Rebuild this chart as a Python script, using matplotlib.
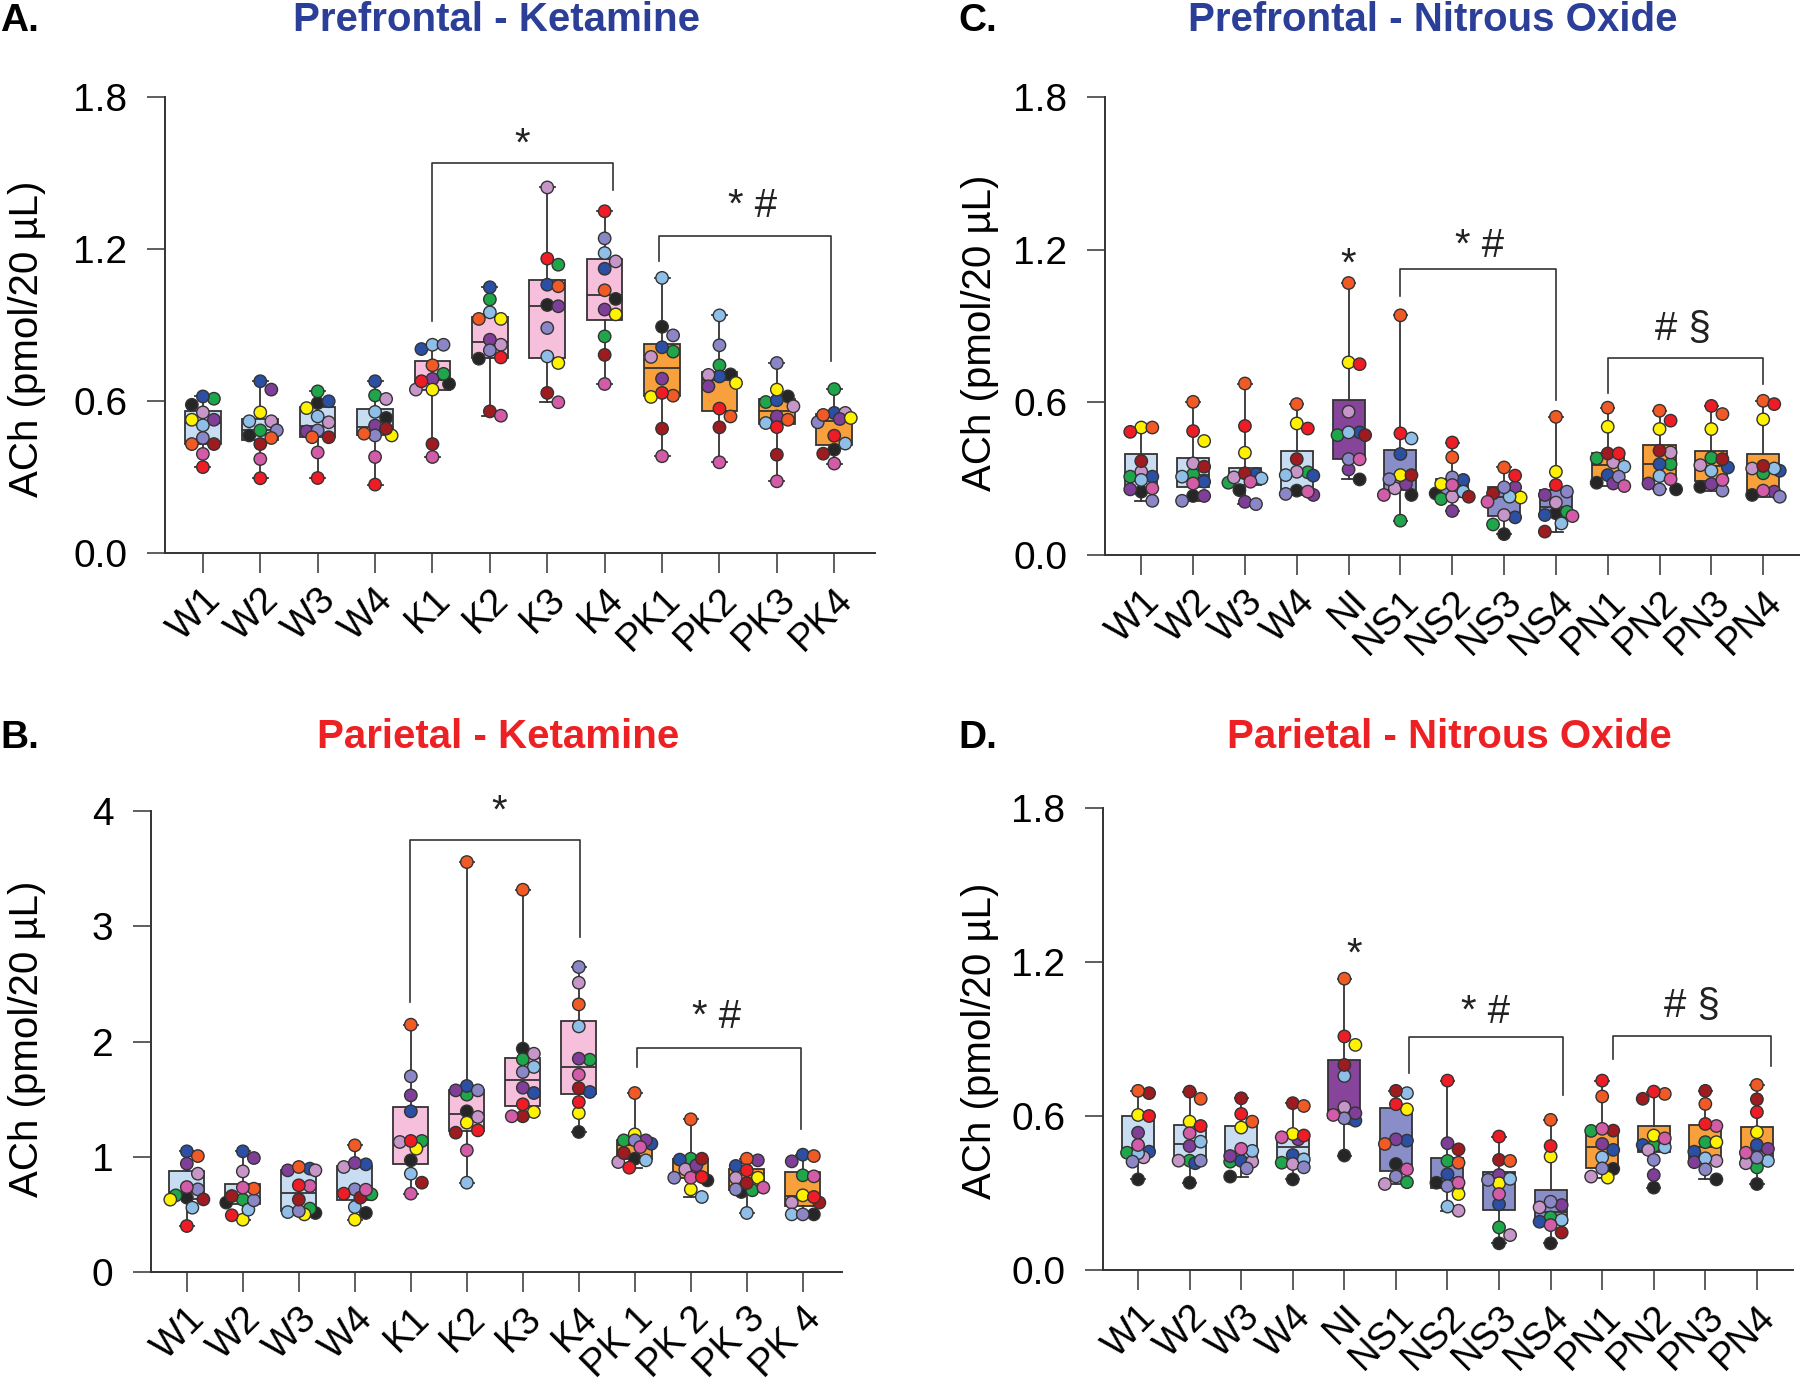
import numpy as np
import matplotlib
matplotlib.use('Agg')
import matplotlib.pyplot as plt

plt.rcParams['font.family'] = ['Liberation Sans', 'DejaVu Sans']

# subject order: black, green, blue, lilac, purple, yellow, light blue,
# lavender, dark red, orange, magenta, red
subject_colors = ['#262626', '#1fa64a', '#2b4fa3', '#c796c8', '#7f3f98', '#fff200',
                  '#8fbfe8', '#8b87c6', '#9e1b20', '#f15a24', '#d35ca8', '#ee1c25']

ket_groups = ['W1', 'W2', 'W3', 'W4', 'K1', 'K2', 'K3', 'K4', 'PK1', 'PK2', 'PK3', 'PK4']
ket_groups_b = ['W1', 'W2', 'W3', 'W4', 'K1', 'K2', 'K3', 'K4', 'PK 1', 'PK 2', 'PK 3', 'PK 4']
n2o_groups = ['W1', 'W2', 'W3', 'W4', 'NI', 'NS1', 'NS2', 'NS3', 'NS4', 'PN1', 'PN2', 'PN3', 'PN4']

ket_box_colors = ['#c8ddf2'] * 4 + ['#f6c0dc'] * 4 + ['#f7a03c'] * 4
n2o_box_colors = ['#c8ddf2'] * 4 + ['#86449b'] + ['#8a8ec8'] * 4 + ['#f7a03c'] * 4

# A. prefrontal - ketamine (pmol/20 uL), one row per group
pfc_ket = [
    [.585, .609, .618, .555, .526, .526, .504, .454, .430, .430, .391, .339],
    [.464, .484, .678, .520, .645, .555, .520, .484, .430, .454, .371, .295],
    [.592, .638, .599, .516, .480, .572, .539, .484, .457, .457, .397, .296],
    [.533, .622, .678, .608, .503, .464, .557, .464, .491, .471, .379, .270],
    [.667, .707, .805, .645, .687, .645, .822, .822, .430, .741, .379, .678],
    [.767, 1.001, 1.049, .822, .842, .924, .950, .800, .559, .924, .542, .772],
    [.979, 1.138, 1.059, 1.443, .974, .750, .776, .888, .632, 1.053, .595, 1.162],
    [1.003, .855, 1.122, 1.151, .961, .942, 1.184, 1.242, .782, 1.037, .667, 1.349],
    [.893, .795, .812, .774, .688, .616, 1.086, .859, .491, .621, .382, .632],
    [.705, .741, .697, .703, .658, .671, .938, .820, .496, .539, .358, .570],
    [.618, .596, .603, .579, .539, .645, .513, .750, .388, .526, .283, .497],
    [.408, .647, .553, .553, .529, .533, .432, .516, .392, .545, .353, .463],
]

# B. parietal - ketamine
par_ket = [
    [.645, .665, 1.047, .853, .940, .628, .558, .717, .630, 1.006, .737, .399],
    [.602, .628, 1.047, .873, .989, .454, .541, .622, .659, .723, .732, .492],
    [.512, .550, .897, .882, .882, .500, .520, .529, .628, .911, .746, .752],
    [.512, .674, .934, .911, .946, .454, .564, .717, .645, 1.099, .714, .680],
    [.969, 1.137, 1.394, 1.128, 1.533, 1.070, .853, 1.698, .775, 2.146, .680, 1.137],
    [1.394, 1.539, 1.614, 1.345, 1.576, 1.296, .775, 1.576, 1.209, 3.557, 1.056, 1.229],
    [1.938, 1.845, 1.553, 1.894, 1.599, 1.388, 1.779, 1.735, 1.351, 3.317, 1.351, 1.455],
    [1.215, 1.842, 1.562, 2.510, 1.851, 1.379, 2.131, 2.646, 1.596, 2.322, 1.712, 1.475],
    [.983, 1.142, 1.113, .954, 1.142, 1.194, .969, 1.142, 1.032, 1.553, 1.084, .905],
    [.795, .983, .975, .891, .925, .717, .651, .818, .983, 1.325, .818, .824],
    [.694, .709, .920, .816, .969, .818, .512, .717, .772, .983, .732, .882],
    [.500, .839, 1.018, .602, .960, .665, .500, .500, .602, 1.006, .830, .651],
]

# C. prefrontal - nitrous oxide
pfc_n2o = [
    [.249, .308, .308, .327, .258, .501, .295, .213, .369, .501, .262, .484],
    [.232, .317, .288, .360, .232, .448, .308, .213, .347, .602, .281, .487],
    [.255, .284, .318, .305, .209, .402, .301, .200, .321, .674, .288, .507],
    [.253, .325, .312, .327, .236, .517, .314, .240, .377, .593, .249, .497],
    [.297, .471, .482, .563, .336, .757, .482, .377, .471, 1.069, .376, .750],
    [.236, .135, .397, .262, .279, .314, .458, .298, .314, .942, .236, .478],
    [.242, .220, .295, .229, .173, .279, .249, .305, .229, .384, .275, .442],
    [.082, .120, .148, .157, .266, .226, .229, .266, .242, .344, .209, .312],
    [.164, .170, .157, .206, .236, .327, .124, .249, .092, .543, .153, .275],
    [.284, .380, .314, .364, .281, .504, .347, .308, .399, .579, .271, .399],
    [.258, .357, .357, .403, .281, .495, .310, .258, .410, .567, .298, .528],
    [.268, .382, .344, .353, .279, .495, .331, .253, .377, .554, .295, .586],
    [.236, .321, .331, .340, .249, .533, .340, .229, .350, .606, .253, .593],
]

# D. parietal - nitrous oxide
par_n2o = [
    [.353, .457, .461, .439, .535, .604, .455, .422, .689, .698, .487, .600],
    [.340, .426, .416, .426, .483, .578, .500, .426, .695, .667, .533, .561],
    [.364, .422, .425, .422, .444, .555, .464, .396, .669, .578, .472, .608],
    [.353, .418, .448, .413, .509, .530, .431, .400, .650, .639, .517, .524],
    [.446, .591, .582, .634, .611, .877, .756, .591, .799, 1.135, .604, .910],
    [.413, .342, .504, .335, .509, .626, .689, .364, .698, .491, .392, .646],
    [.340, .425, .373, .231, .494, .296, .247, .327, .470, .418, .340, .738],
    [.104, .166, .256, .136, .370, .338, .355, .351, .429, .425, .296, .520],
    [.104, .205, .188, .244, .253, .442, .195, .266, .146, .585, .175, .483],
    [.394, .542, .468, .364, .491, .360, .439, .396, .543, .676, .550, .738],
    [.321, .483, .487, .468, .370, .524, .478, .429, .667, .686, .513, .695],
    [.353, .498, .461, .425, .420, .498, .435, .392, .698, .647, .561, .569],
    [.335, .400, .487, .416, .472, .537, .425, .438, .665, .721, .457, .615],
]

# brackets: x_left, x_right, y_bar, y_left_end, y_right_end
brackets_a = [(5.0, 8.15, 1.540, 0.914, 1.434), (8.95, 11.94, 1.25, 1.151, 0.757)]
brackets_b = [(4.98, 8.02, 3.751, 2.343, 2.906), (9.04, 11.96, 1.943, 1.779, 1.244)]
brackets_c = [(6.0, 9.01, 1.123, 1.017, 0.611), (10.0, 12.99, 0.776, 0.635, 0.674)]
brackets_d = [(6.25, 9.24, 0.906, 0.769, 0.682), (10.2, 13.27, 0.910, 0.821, 0.795)]
# significance marks: text, x centre, baseline y
notes_a = [('*', 6.56, 1.567), ('* #', 10.57, 1.326)]
notes_b = [('*', 6.57, 3.896), ('* #', 10.46, 2.117)]
notes_c = [('*', 5.0, 1.097), ('* #', 7.53, 1.171), ('# \u00a7', 11.46, 0.845)]
notes_d = [('*', 5.19, 1.184), ('* #', 7.74, 0.962), ('# \u00a7', 11.74, 0.986)]

INK = '#333333'


def swarm_offsets(ax, x, vals, d_px=12.0, half_width=0.32):
    '''beeswarm-like horizontal offsets (data units), kept inside the box width'''
    pts = ax.transData.transform(np.column_stack([np.full(len(vals), x), vals]))
    py = pts[:, 1]
    px_per_x = ax.transData.transform((1, 0))[0] - ax.transData.transform((0, 0))[0]
    step = 0.5 * 0.92 * d_px
    kmax = int(half_width * px_per_x / step)
    cands = [0]
    for k in [2, 1, 3, 4, 5, 6]:
        if k <= kmax:
            cands += [k, -k]
    order = np.argsort(-py)
    placed = []
    offs = np.zeros(len(vals))
    for i in order:
        best, best_gap = 0.0, -1.0
        for k in cands:
            ox = k * step
            gap = min([np.hypot(ox - qx, py[i] - qy) for qx, qy in placed] or [1e9])
            if gap >= 0.85 * d_px:
                best = ox
                break
            if gap > best_gap:
                best, best_gap = ox, gap
        placed.append((best, py[i]))
        offs[i] = best / px_per_x
    return offs


def draw_panel(ax, data, labels, box_colors, yticks, yticklabels, xlim, brackets, notes,
               label_xy):
    pos = np.arange(1, len(data) + 1)
    ax.set_xlim(*xlim)
    ax.set_ylim(yticks[0], yticks[-1])
    bp = ax.boxplot(data, positions=pos, widths=0.62, whis=(0, 100), patch_artist=True,
                    showfliers=False, capwidths=0.26, manage_ticks=False,
                    medianprops=dict(color=INK, lw=1.3),
                    boxprops=dict(edgecolor=INK, lw=1.3),
                    whiskerprops=dict(color=INK, lw=1.3),
                    capprops=dict(color=INK, lw=1.3))
    for patch, c in zip(bp['boxes'], box_colors):
        patch.set_facecolor(c)
    for i, vals in enumerate(data):
        offs = swarm_offsets(ax, pos[i], vals)
        ax.scatter(pos[i] + offs, vals, c=subject_colors, s=80, edgecolors=INK,
                   linewidths=1.0, zorder=3, clip_on=False)

    for x1, x2, yb, yl, yr in brackets:
        ax.plot([x1, x1, x2, x2], [yl, yb, yb, yr], color=INK, lw=1.2, clip_on=False)
    for txt, x, y in notes:
        ax.text(x, y, txt, ha='center', va='baseline', fontsize=29, color='#222222')

    ax.set_xticks(pos)
    ax.set_xticklabels(labels, rotation=45, ha='right', va='top', rotation_mode='anchor')
    ax.set_yticks(yticks)
    ax.set_yticklabels(yticklabels)
    ax.tick_params(axis='x', length=14.5, width=1.1, color=INK, pad=6, labelsize=27.5)
    ax.tick_params(axis='y', length=13, width=1.1, color=INK, pad=14, labelsize=28)
    for s in ['top', 'right']:
        ax.spines[s].set_visible(False)
    for s in ['left', 'bottom']:
        ax.spines[s].set_linewidth(1.4)
        ax.spines[s].set_color(INK)
    ax.set_ylabel('ACh (pmol/20 \u00b5L)', fontsize=29)
    ax.yaxis.set_label_coords(*label_xy)


fig = plt.figure(figsize=(18, 13.88), dpi=100)

ax_a = fig.add_axes([165 / 1800, 1 - 553 / 1388, 710 / 1800, 456 / 1388])
ax_c = fig.add_axes([1105 / 1800, 1 - 555 / 1388, 695 / 1800, 458 / 1388])
ax_b = fig.add_axes([151 / 1800, 1 - 1272 / 1388, 691 / 1800, 461 / 1388])
ax_d = fig.add_axes([1103 / 1800, 1 - 1270 / 1388, 690 / 1800, 462 / 1388])

draw_panel(ax_a, pfc_ket, ket_groups, ket_box_colors, [0, 0.6, 1.2, 1.8],
           ['0.0', '0.6', '1.2', '1.8'], (0.34, 12.71), brackets_a, notes_a, (-0.168, 0.47))
draw_panel(ax_b, par_ket, ket_groups_b, ket_box_colors, [0, 1, 2, 3, 4],
           ['0', '1', '2', '3', '4'], (0.36, 12.70), brackets_b, notes_b, (-0.152, 0.505))
draw_panel(ax_c, pfc_n2o, n2o_groups, n2o_box_colors, [0, 0.6, 1.2, 1.8],
           ['0.0', '0.6', '1.2', '1.8'], (0.30, 13.71), brackets_c, notes_c, (-0.153, 0.485))
draw_panel(ax_d, par_n2o, n2o_groups, n2o_box_colors, [0, 0.6, 1.2, 1.8],
           ['0.0', '0.6', '1.2', '1.8'], (0.32, 13.70), brackets_d, notes_d, (-0.151, 0.496))

blue = '#2b3f98'
red = '#ed2024'
top_base = 1 - 31 / 1388
bot_base = 1 - 748.5 / 1388
fig.text(0.0, top_base, 'A.', fontsize=28, fontweight='bold', va='baseline')
fig.text(958 / 1800, top_base, 'C.', fontsize=28, fontweight='bold', va='baseline')
fig.text(0.0, bot_base, 'B.', fontsize=28, fontweight='bold', va='baseline')
fig.text(958 / 1800, bot_base, 'D.', fontsize=28, fontweight='bold', va='baseline')
fig.text(497 / 1800, top_base, 'Prefrontal - Ketamine', fontsize=29, fontweight='bold',
         color=blue, ha='center', va='baseline')
fig.text(1433 / 1800, top_base, 'Prefrontal - Nitrous Oxide', fontsize=29, fontweight='bold',
         color=blue, ha='center', va='baseline')
fig.text(498 / 1800, bot_base, 'Parietal - Ketamine', fontsize=29, fontweight='bold',
         color=red, ha='center', va='baseline')
fig.text(1449 / 1800, bot_base, 'Parietal - Nitrous Oxide', fontsize=29, fontweight='bold',
         color=red, ha='center', va='baseline')

fig.savefig('out.png', dpi=100)
